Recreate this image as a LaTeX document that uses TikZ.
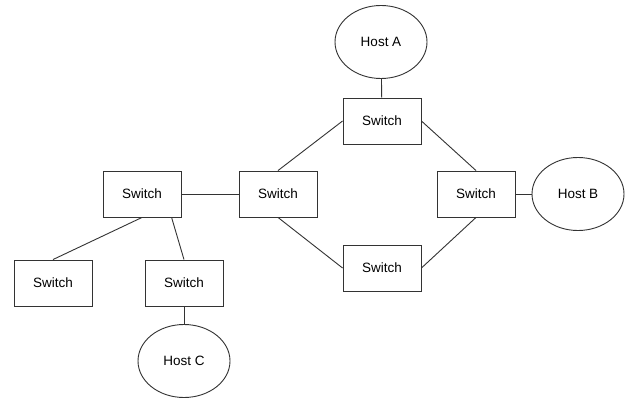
\documentclass[tikz,border=0pt]{standalone}
\usepackage{fontspec}
\setmainfont{Liberation Sans}
\usetikzlibrary{shapes.geometric,calc}
\begin{document}
\begin{tikzpicture}[x=1pt,y=-1pt,
  sw/.style={draw=black!80,line width=0.9pt,minimum width=78pt,minimum height=46pt,inner sep=0pt,font=\fontsize{13.5}{15}\selectfont},
  host/.style={draw=black!80,line width=0.9pt,ellipse,inner sep=0pt,minimum width=92pt,minimum height=73pt,font=\fontsize{13.5}{15}\selectfont},
  link/.style={draw=black!80,line width=0.9pt}]
\fill[white] (0,0) rectangle (628,398);
\useasboundingbox (0,0) rectangle (628,398);
\node[host] (ha) at (381,42) {Host A};
\node[sw] (st) at (382,121) {Switch};
\node[sw] (sm) at (278,194) {Switch};
\node[sw] (sl) at (142,194) {Switch};
\node[sw] (sr) at (476,194) {Switch};
\node[host] (hb) at (578,194) {Host B};
\node[sw] (sb) at (382,268) {Switch};
\node[sw] (sfl) at (53,283) {Switch};
\node[sw] (sml) at (184,283) {Switch};
\node[host] (hc) at (184,361) {Host C};
\draw[link] (ha) -- (st);
\draw[link] (st.west) -- (sm.north);
\draw[link] (st.east) -- (sr.north);
\draw[link] (sm.south) -- (sb.west);
\draw[link] (sb.east) -- (sr.south);
\draw[link] (sl.east) -- (sm.west);
\draw[link] (sr.east) -- (hb.west);
\draw[link] (sl.south) -- (sfl.north);
\draw[link] ($(sl.south)!0.75!(sl.south east)$) -- (sml.north);
\draw[link] (sml.south) -- (hc.north);
\end{tikzpicture}
\end{document}
